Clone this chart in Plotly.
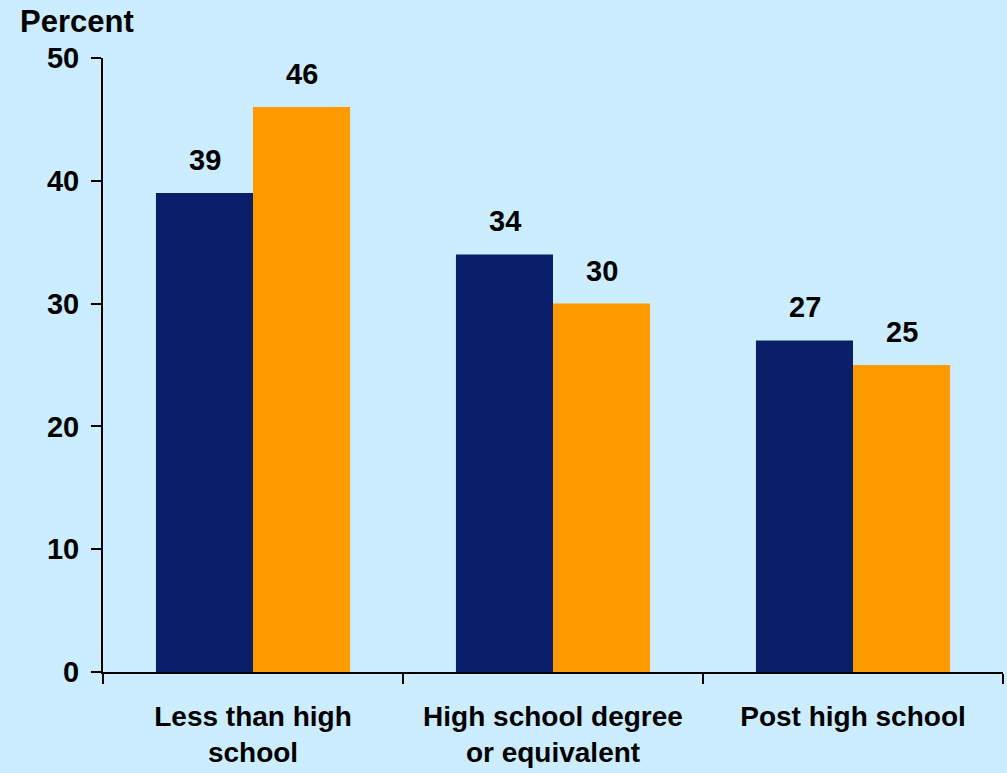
import plotly.graph_objects as go

# Education level categories and the two series (percent)
categories = ["Less than high<br>school", "High school degree<br>or equivalent", "Post high school"]
series_navy = [39, 34, 27]
series_orange = [46, 30, 25]
y_ticks = [0, 10, 20, 30, 40, 50]

NAVY = "#0A1F69"
ORANGE = "#FF9900"
BG = "#CCECFF"
FONT = "Liberation Sans, Arial, sans-serif"

fig = go.Figure()
fig.add_trace(go.Bar(x=categories, y=series_navy, marker=dict(color=NAVY, line=dict(width=0)),
                     name="Series 1"))
fig.add_trace(go.Bar(x=categories, y=series_orange, marker=dict(color=ORANGE, line=dict(width=0)),
                     name="Series 2"))

# Value labels above each bar
half_bar_px = 48.5
for vals, shift in ((series_navy, -half_bar_px), (series_orange, half_bar_px)):
    for cat, v in zip(categories, vals):
        fig.add_annotation(x=cat, y=v, text=f"<b>{v}</b>", showarrow=False,
                           xshift=shift, yshift=15, yanchor="bottom",
                           font=dict(family=FONT, size=29, color="black"))

# Y axis title placed horizontally above the axis
fig.add_annotation(xref="paper", yref="paper", x=(77 - 103) / 900, y=1 + (58 - 22) / 614,
                   xanchor="center", yanchor="middle", text="<b>Percent</b>", showarrow=False,
                   font=dict(family=FONT, size=31, color="black"))

fig.update_layout(
    width=1007, height=773,
    margin=dict(l=103, r=4, t=58, b=101),
    paper_bgcolor=BG, plot_bgcolor=BG,
    barmode="group", bargap=0.353, bargroupgap=0,
    showlegend=False,
    font=dict(family=FONT, color="black"),
)
fig.update_xaxes(
    showgrid=False, showline=True, linecolor="black", linewidth=2,
    ticks="outside", tickson="boundaries", ticklen=10, tickwidth=2, tickcolor="black",
    tickfont=dict(family=FONT, size=28, color="black"),
    tickprefix="<b>", ticksuffix="</b>", ticklabelstandoff=18,
)
fig.update_yaxes(
    range=[0, 50], tickvals=y_ticks, ticktext=[f"<b>{t}</b>" for t in y_ticks],
    showgrid=False, zeroline=False, showline=True, linecolor="black", linewidth=2,
    ticks="outside", ticklen=10, tickwidth=2, tickcolor="black",
    tickfont=dict(family=FONT, size=29, color="black"), ticklabelstandoff=6,
)

fig.write_html("out.html")
